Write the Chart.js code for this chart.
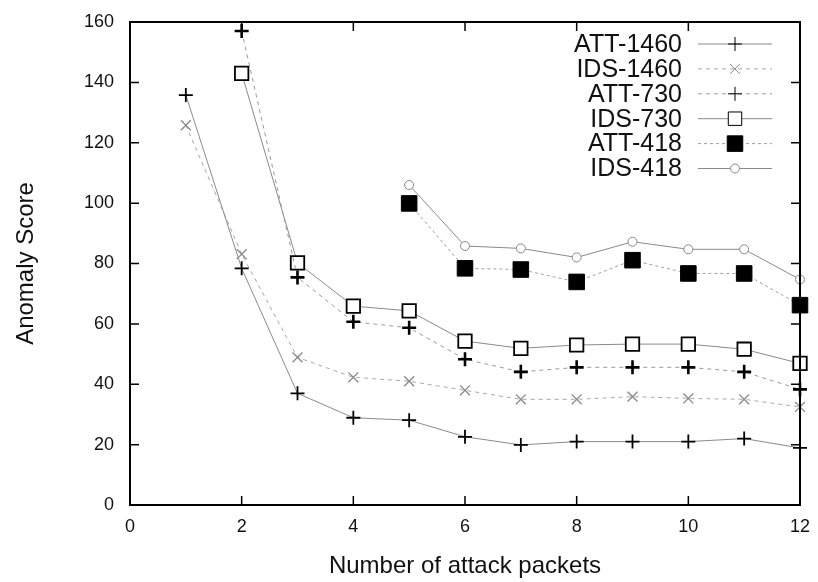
<!DOCTYPE html>
<html>
<head>
<meta charset="utf-8">
<script src="https://cdn.jsdelivr.net/npm/chart.js@4"></script>
<style>
  html, body { margin: 0; padding: 0; background: #fff; }
  #wrap { width: 818px; height: 582px; }
</style>
</head>
<body>
<div id="wrap"><canvas id="chart" width="818" height="582"></canvas></div>
<script>
// values
const packets = [1, 2, 3, 4, 5, 6, 7, 8, 9, 10, 11, 12];
const att1460 = [135.8, 78.4, 37, 28.9, 28.1, 22.6, 19.9, 21, 21, 21, 22, 18.9];
const ids1460 = [125.8, 83.1, 48.9, 42.3, 41, 38, 35, 35, 35.9, 35.3, 35, 32.5];
const att730 = [null, 157, 75.4, 60.7, 58.7, 48.3, 44.1, 45.6, 45.6, 45.6, 44.1, 38.3];
const ids730 = [null, 143, 80.2, 65.9, 64.3, 54.3, 51.9, 53, 53.3, 53.3, 51.6, 46.9];
const att418 = [null, null, null, null, 99.9, 78.4, 78, 73.9, 81.1, 76.7, 76.7, 66.2];
const ids418 = [null, null, null, null, 106, 85.8, 85, 82, 87.2, 84.7, 84.7, 74.7];
const xTicks = [0, 2, 4, 6, 8, 10, 12];
const yTicks = [0, 20, 40, 60, 80, 100, 120, 140, 160];

const FONT = "'Liberation Sans', Arial, sans-serif";

function pts(vals) {
  return packets.map((p, i) => ({ x: p, y: vals[i] }));
}

function series(label, vals, style) {
  return Object.assign({
    label: label,
    data: pts(vals),
    borderWidth: 1,
    fill: false,
    tension: 0,
    spanGaps: false,
    clip: false
  }, style);
}

// gnuplot-like frame, inward ticks and right-aligned legend inside the plot
const gnuFrame = {
  id: 'gnuFrame',
  afterDraw(chart) {
    const { ctx, chartArea: a, scales } = chart;
    ctx.save();
    ctx.strokeStyle = '#000';
    ctx.lineWidth = 2;
    ctx.strokeRect(a.left, a.top, a.right - a.left, a.bottom - a.top);
    ctx.lineWidth = 1.5;
    ctx.beginPath();
    const tl = 9;
    xTicks.forEach(v => {
      const px = scales.x.getPixelForValue(v);
      ctx.moveTo(px, a.bottom); ctx.lineTo(px, a.bottom - tl);
      ctx.moveTo(px, a.top); ctx.lineTo(px, a.top + tl);
    });
    yTicks.forEach(v => {
      const py = scales.y.getPixelForValue(v);
      ctx.moveTo(a.left, py); ctx.lineTo(a.left + tl, py);
      ctx.moveTo(a.right, py); ctx.lineTo(a.right - tl, py);
    });
    ctx.stroke();

    // legend
    const textRight = 682, x0 = 698, x1 = 772, top = 44, step = 24.9;
    ctx.font = '25px ' + FONT;
    ctx.textAlign = 'right';
    ctx.textBaseline = 'middle';
    chart.data.datasets.forEach((ds, i) => {
      const y = top + i * step;
      ctx.fillStyle = '#111';
      ctx.fillText(ds.label, textRight, y + 1);
      ctx.strokeStyle = ds.borderColor;
      ctx.lineWidth = ds.borderWidth;
      ctx.setLineDash(ds.borderDash || []);
      ctx.beginPath();
      ctx.moveTo(x0, y); ctx.lineTo(x1, y);
      ctx.stroke();
      ctx.setLineDash([]);
      ctx.fillStyle = ds.pointBackgroundColor;
      ctx.strokeStyle = ds.pointBorderColor;
      Chart.helpers.drawPoint(ctx, {
        pointStyle: ds.pointStyle,
        radius: ds.pointRadius,
        borderWidth: ds.pointBorderWidth,
        rotation: 0
      }, (x0 + x1) / 2, y);
    });
    ctx.restore();
  }
};

new Chart(document.getElementById('chart').getContext('2d'), {
  type: 'line',
  data: {
    datasets: [
      series('ATT-1460', att1460, {
        borderColor: '#8a8a8a',
        pointStyle: 'cross', pointRadius: 7, pointBorderWidth: 1.8,
        pointBorderColor: '#000', pointBackgroundColor: '#000'
      }),
      series('IDS-1460', ids1460, {
        borderColor: '#a8a8a8', borderDash: [4, 4],
        pointStyle: 'crossRot', pointRadius: 7, pointBorderWidth: 1.3,
        pointBorderColor: '#888', pointBackgroundColor: '#888'
      }),
      series('ATT-730', att730, {
        borderColor: '#9a9a9a', borderDash: [4, 4],
        pointStyle: 'cross', pointRadius: 7, pointBorderWidth: 2.6,
        pointBorderColor: '#000', pointBackgroundColor: '#000'
      }),
      series('IDS-730', ids730, {
        borderColor: '#8a8a8a',
        pointStyle: 'rect', pointRadius: 9.5, pointBorderWidth: 1.8,
        pointBorderColor: '#000', pointBackgroundColor: '#fff'
      }),
      series('ATT-418', att418, {
        borderColor: '#a0a0a0', borderDash: [3, 3],
        pointStyle: 'rect', pointRadius: 11, pointBorderWidth: 1,
        pointBorderColor: '#000', pointBackgroundColor: '#000'
      }),
      series('IDS-418', ids418, {
        borderColor: '#8a8a8a',
        pointStyle: 'circle', pointRadius: 4.5, pointBorderWidth: 1,
        pointBorderColor: '#888', pointBackgroundColor: '#fff'
      })
    ]
  },
  options: {
    responsive: false,
    animation: false,
    layout: { padding: { left: 0, top: 22, right: 18, bottom: 0 } },
    plugins: {
      legend: { display: false },
      tooltip: { enabled: false }
    },
    scales: {
      x: {
        type: 'linear',
        min: 0, max: 12,
        afterBuildTicks: s => { s.ticks = xTicks.map(v => ({ value: v })); },
        afterFit: s => { s.height = 77; s.paddingLeft = 0; s.paddingRight = 0; },
        grid: { display: false, drawTicks: false },
        border: { display: false },
        ticks: { color: '#111', padding: 11, font: { family: FONT, size: 18 } },
        title: {
          display: true, text: 'Number of attack packets', color: '#111',
          padding: { top: 0, bottom: 1 }, font: { family: FONT, size: 24 }
        }
      },
      y: {
        min: 0, max: 160,
        afterBuildTicks: s => { s.ticks = yTicks.map(v => ({ value: v })); },
        afterFit: s => { s.width = 130; s.paddingTop = 0; s.paddingBottom = 0; },
        grid: { display: false, drawTicks: false },
        border: { display: false },
        ticks: { color: '#111', padding: 16, font: { family: FONT, size: 18 } },
        title: {
          display: true, text: 'Anomaly Score', color: '#111',
          padding: { top: 12, bottom: 0 }, font: { family: FONT, size: 24 }
        }
      }
    }
  },
  plugins: [gnuFrame]
});
</script>
</body>
</html>
